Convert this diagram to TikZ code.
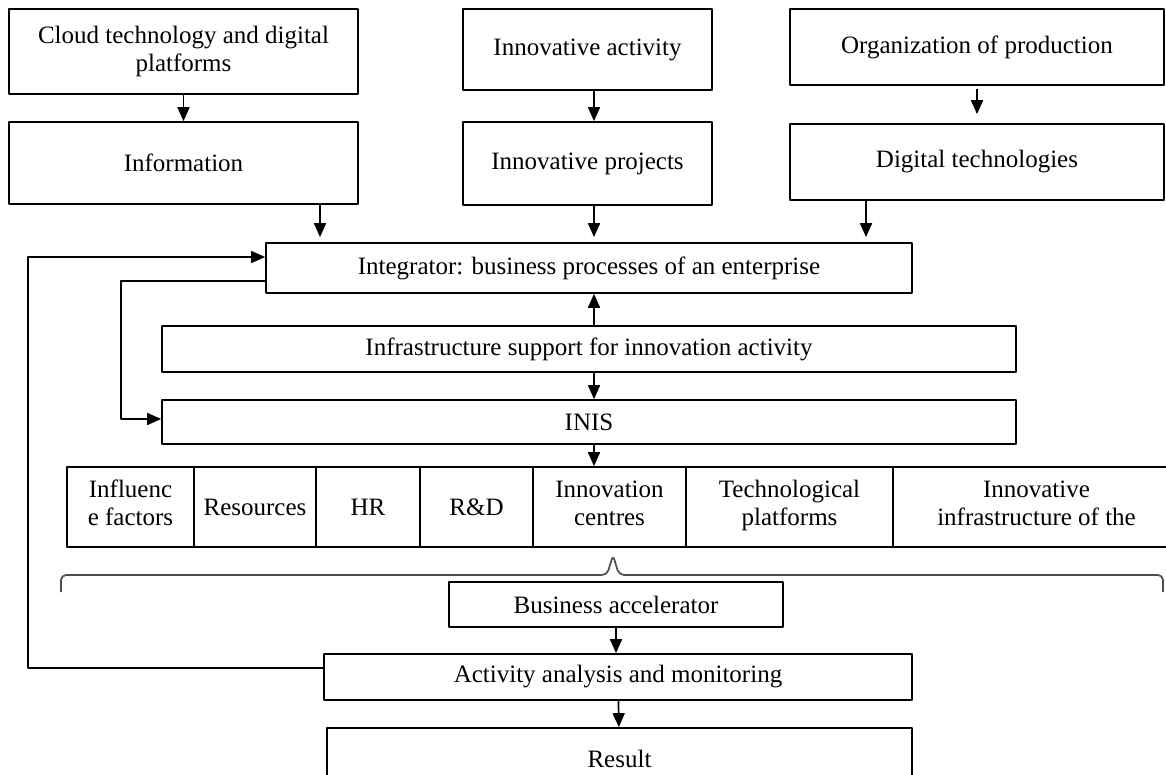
\documentclass[tikz,border=0pt]{standalone}
\usepackage{fontspec}
\setmainfont{Liberation Serif}
\usetikzlibrary{arrows.meta}
\tikzset{
	box/.style={draw,align=center,inner sep=1pt,font=\fontsize{12.5}{14}\selectfont},
	cell/.style={box,minimum height=40pt},
}
\begin{document}
\begin{tikzpicture}[x=0.5pt,y=-0.5pt,>={Triangle[length=7pt,width=6pt]},line width=0.85pt,line join=round]
		\useasboundingbox (0,0) rectangle (1166,775);
		\clip (0,0) rectangle (1166,775);
		% top three columns
		\node[box,minimum width=174.5pt,minimum height=42.5pt] (cloud) at (183.5,51.5) {Cloud technology and digital\\platforms};
		\node[box,minimum width=174.5pt,minimum height=41pt] (info) at (183.5,163) {Information};
		\node[box,minimum width=124.5pt,minimum height=40.5pt] (act) at (587.5,49.5) {Innovative activity};
		\node[box,minimum width=124.5pt,minimum height=41.5pt] (proj) at (587.5,163.5) {Innovative projects};
		\node[box,minimum width=187pt,minimum height=38pt] (org) at (977,47) {Organization of production};
		\node[box,minimum width=187pt,minimum height=38pt] (dig) at (977,162) {Digital technologies};
		% middle blocks
		\node[box,minimum width=323pt,minimum height=25pt] (integ) at (589,268) {Integrator: business processes of an enterprise};
		\node[box,minimum width=427pt,minimum height=23pt] (infra) at (589,349) {Infrastructure support for innovation activity};
		\node[box,minimum width=427pt,minimum height=22pt] (inis) at (589,422) {INIS};
		% INIS row
		\node[cell,minimum width=63.5pt] (c1) at (130.5,507) {Influenc\\e factors\strut};
		\node[cell,minimum width=61pt] (c2) at (255,507) {Resources};
		\node[cell,minimum width=52pt] (c3) at (368,507) {HR};
		\node[cell,minimum width=56.5pt] (c4) at (476.5,507) {R\&D};
		\node[cell,minimum width=76.5pt] (c5) at (609.5,507) {Innovation\\centres\strut};
		\node[cell,minimum width=103.5pt] (c6) at (789.5,507) {Technological\\platforms\strut};
		\node[cell,minimum width=143.5pt] (c7) at (1036.5,507) {Innovative\\infrastructure of the\strut};
		\draw[black!70,rounded corners=2.5pt] (61,592)--(61,575)--(607,575)--(613,555)--(619,575)--(1163,575)--(1163,592);
		% bottom blocks
		\node[box,minimum width=167pt,minimum height=22.5pt] (bacc) at (616,604.5) {Business accelerator};
		\node[box,minimum width=294pt,minimum height=23pt] (mon) at (618,677) {Activity analysis and monitoring};
		\node[box,minimum width=292.5pt,minimum height=31pt] (res) at (619.5,759) {Result};
		% arrows
		\coordinate (in1) at (320,0);
		\coordinate (in3) at (866,0);
		\coordinate (spine) at (594,0);
		\draw[->] (cloud)--(info);
		\draw[->] (act.south -| spine)--(proj.north -| spine);
		\draw[->,shorten <=1.5pt,shorten >=4.5pt] (org)--(dig);
		\draw[->,shorten >=2.5pt] (info.south -| in1)--(integ.north -| in1);
		\draw[->,shorten >=2.5pt] (proj.south -| spine)--(integ.north -| spine);
		\draw[->,shorten >=2.5pt] (dig.south -| in3)--(integ.north -| in3);
		\draw[->] (infra.north -| spine)--(integ.south -| spine);
		\draw[->] (infra.south -| spine)--(inis.north -| spine);
		\draw[->] (inis.south -| spine)--(c5.north -| spine);
		\draw[->] (bacc)--(mon.north -| bacc);
		\draw[->] (mon)--(res);
		% feedback loops
		\coordinate (outx) at (28,0);
		\coordinate (inx) at (121,0);
		\coordinate (monout) at ([yshift=4.5pt]mon.west);
		\coordinate (integin) at ([yshift=5.5pt]integ.west);
		\coordinate (integout) at ([yshift=-6.5pt]integ.west);
		\coordinate (inisin) at ([yshift=1.5pt]inis.west);
		\draw[->] (monout)--(monout -| outx) |- (integin);
		\draw[->] (integout)--(integout -| inx) |- (inisin);
\end{tikzpicture}
\end{document}
